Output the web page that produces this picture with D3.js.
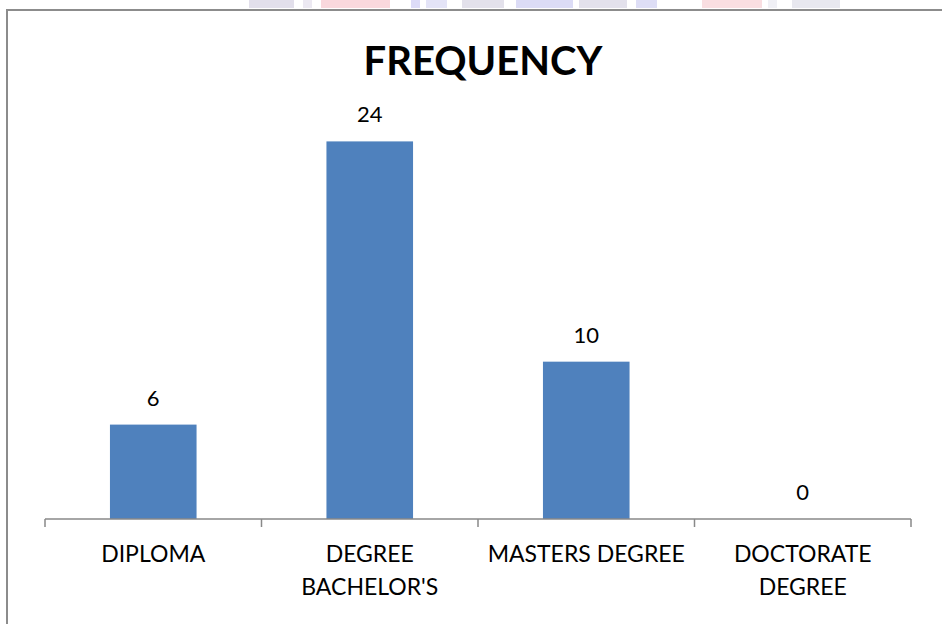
<!DOCTYPE html>
<html>
<head>
<meta charset="utf-8">
<script src="https://cdn.jsdelivr.net/npm/d3@7"></script>
<style>
  html, body { margin: 0; padding: 0; background: #fff; }
  svg { display: block; }
  text { font-family: Lato, "Open Sans", sans-serif; fill: #000; }
</style>
</head>
<body>
<svg id="chart" width="942" height="624"></svg>
<script>
// Education level counts
const categories = ["DIPLOMA", "DEGREE BACHELOR'S", "MASTERS DEGREE", "DOCTORATE DEGREE"];
const categoryLines = [["DIPLOMA"], ["DEGREE", "BACHELOR'S"], ["MASTERS DEGREE"], ["DOCTORATE", "DEGREE"]];
const frequency = [6, 24, 10, 0];
const titleText = "FREQUENCY";

const W = 942, H = 624;
const svg = d3.select("#chart");

// faint strip of the page header showing above the chart frame
const headerBits = [
  [249, 45, "#e2dfeb"], [303, 9, "#ece9f2"], [321, 69, "#f9d8dd"], [411, 9, "#dddcf7"],
  [426, 21, "#e4e4f7"], [462, 42, "#e3e1eb"], [516, 57, "#dcdcf6"], [579, 48, "#e3e1ec"],
  [636, 21, "#dedef6"], [702, 60, "#f9dee1"], [768, 9, "#f0f0f5"], [792, 48, "#e8e8ef"]
];
svg.append("g").selectAll("rect").data(headerBits).join("rect")
  .attr("x", d => d[0]).attr("y", 0).attr("width", d => d[1]).attr("height", 8)
  .attr("fill", d => d[2]);

// chart frame (runs past the right and bottom edges)
svg.append("rect")
  .attr("x", 7).attr("y", 10).attr("width", W + 20).attr("height", H + 20)
  .attr("fill", "none").attr("stroke", "#8c8c8c").attr("stroke-width", 2);

const x = d3.scaleBand().domain(categories).range([45, 911])
  .paddingInner(0.6).paddingOuter(0.3);
const y = d3.scaleLinear().domain([0, 30]).range([519, 47]);

// bars
svg.append("g").selectAll("rect").data(categories).join("rect")
  .attr("x", d => x(d)).attr("width", x.bandwidth())
  .attr("y", (d, i) => y(frequency[i]))
  .attr("height", (d, i) => y(0) - y(frequency[i]))
  .attr("fill", "#4f81bd");

// category axis with ticks between categories
const axisG = svg.append("g").attr("stroke", "#898989").attr("stroke-width", 1.5).attr("fill", "none");
axisG.append("line").attr("x1", 45).attr("x2", 911).attr("y1", y(0)).attr("y2", y(0));
const boundaries = categories.map(d => x(d) - x.step() * x.paddingInner() / 2)
  .concat([x(categories[categories.length - 1]) + x.bandwidth() + x.step() * x.paddingInner() / 2]);
axisG.selectAll("line.tick").data(boundaries).join("line").attr("class", "tick")
  .attr("x1", d => d).attr("x2", d => d).attr("y1", y(0)).attr("y2", y(0) + 8);

// value labels
svg.append("g").selectAll("text").data(categories).join("text")
  .attr("x", d => x(d) + x.bandwidth() / 2)
  .attr("y", (d, i) => y(frequency[i]) - 19)
  .attr("text-anchor", "middle").attr("font-size", 22)
  .text((d, i) => frequency[i]);

// category labels
const catG = svg.append("g").selectAll("text").data(categories).join("text")
  .attr("x", d => x(d) + x.bandwidth() / 2)
  .attr("y", 562)
  .attr("text-anchor", "middle").attr("font-size", 23);
catG.selectAll("tspan").data((d, i) => categoryLines[i]).join("tspan")
  .attr("x", function () { return d3.select(this.parentNode).attr("x"); })
  .attr("dy", (d, j) => j === 0 ? 0 : 33)
  .text(d => d);

// title
svg.append("text").attr("x", 483).attr("y", 75)
  .attr("text-anchor", "middle").attr("font-size", 40).attr("font-weight", "bold")
  .text(titleText);
</script>
</body>
</html>
